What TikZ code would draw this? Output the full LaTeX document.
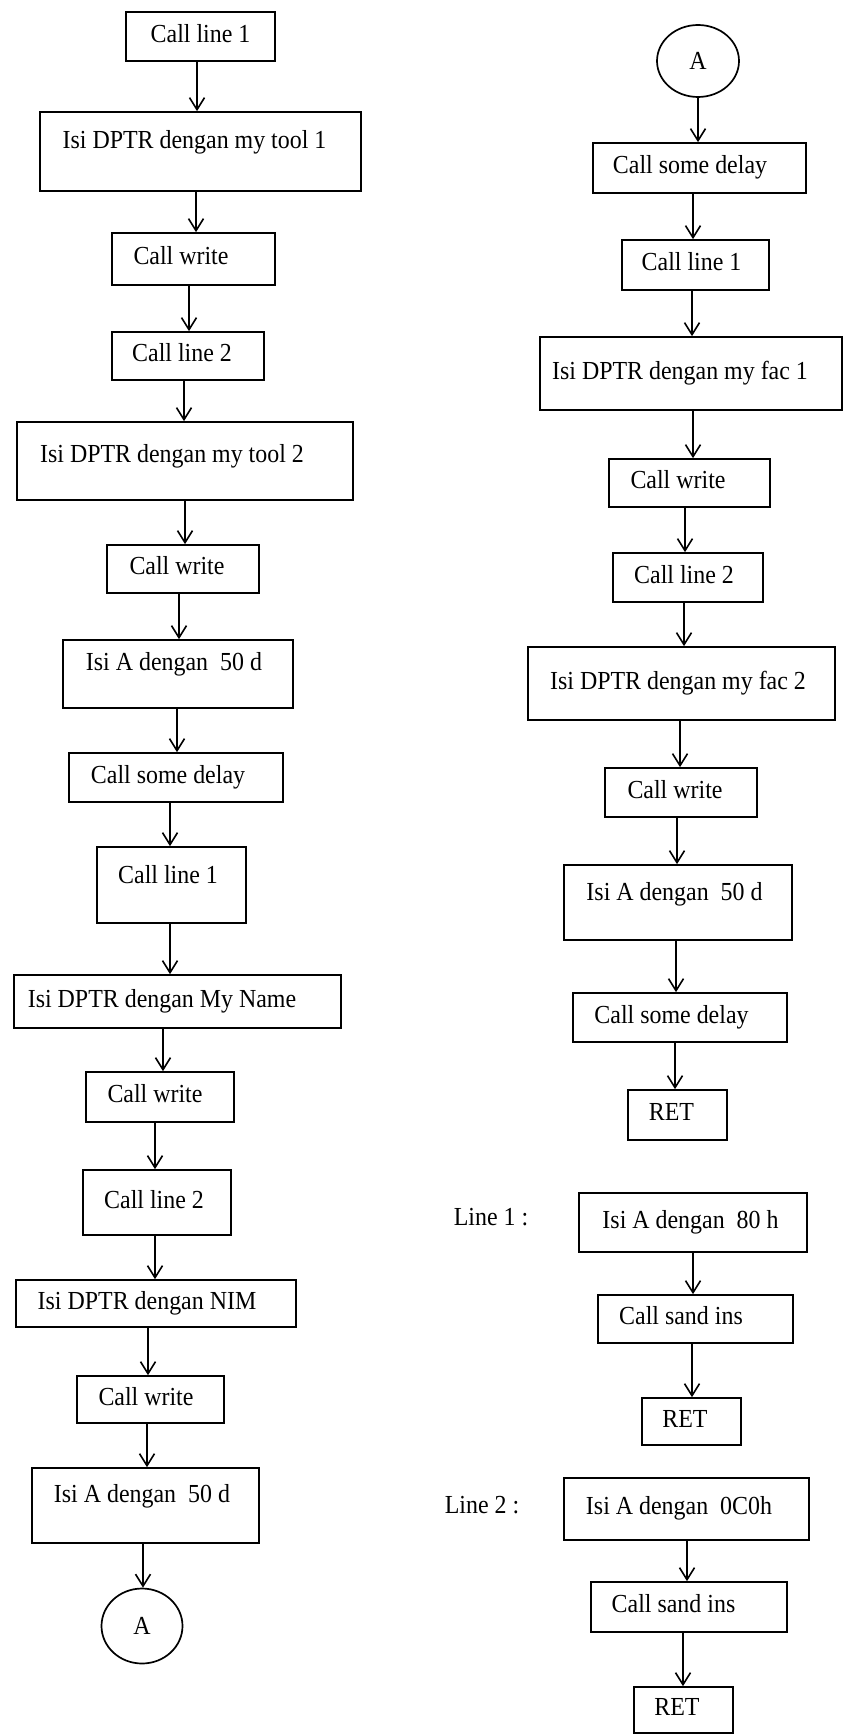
\documentclass[tikz,border=0pt]{standalone}
\usepackage{fontspec}
\setmainfont{Liberation Serif}[FakeStretch=0.92]
\usetikzlibrary{arrows.meta,shapes.geometric}
\begin{document}
\begin{tikzpicture}[x=1pt,y=-1pt,
  box/.style={draw, rectangle, line width=1.7pt, inner sep=0pt,
    text height=18pt, text depth=6.5pt, font=\fontsize{26}{30}\selectfont},
  conn/.style={draw, ellipse, line width=1.7pt, inner sep=0pt,
    font=\fontsize{26}{30}\selectfont},
  lbl/.style={inner sep=0pt, anchor=base, font=\fontsize{26}{30}\selectfont},
  sz/.style 2 args={minimum width=#1pt, minimum height=#2pt},
  tx/.style={execute at begin node={\hspace*{#1pt}\hspace*{#1pt}}},
  td/.style={text depth=#1pt},
  arr/.style={line width=1.6pt, -{Straight Barb[length=12pt,width=15pt]}}]
\useasboundingbox[fill=white] (0,0) rectangle (843,1736);

% ---------- main routine, left column ----------
\node[box, sz={149}{49}]               (L1)  at (200.5,36.5)  {Call line 1};
\node[box, sz={321}{79}, td=24, tx=-6] (L2)  at (200.5,151.5) {Isi DPTR dengan my tool 1};
\node[box, sz={163}{52}, tx=-12.5]     (L3)  at (193.5,259)   {Call write};
\node[box, sz={152}{48}, tx=-6]        (L4)  at (188,356)     {Call line 2};
\node[box, sz={336}{78}, td=15, tx=-13](L5)  at (185,461)     {Isi DPTR dengan my tool 2};
\node[box, sz={152}{48}, tx=-6]        (L6)  at (183,569)     {Call write};
\node[box, sz={230}{68}, td=25, tx=-4] (L7)  at (178,674)     {Isi A dengan\ \ 50 d};
\node[box, sz={214}{49}, tx=-8]        (L8)  at (176,777.5)   {Call some delay};
\node[box, sz={149}{76}, td=21, tx=-3.5](L9) at (171.5,885)   {Call line 1};
\node[box, sz={327}{53}, tx=-15.5]     (L10) at (177.5,1001.5){Isi DPTR dengan My Name};
\node[box, sz={148}{50}, tx=-5]        (L11) at (160,1097)    {Call write};
\node[box, sz={148}{65}, tx=-3]        (L12) at (157,1202.5)  {Call line 2};
\node[box, sz={280}{47}, tx=-9]        (L13) at (156,1303.5)  {Isi DPTR dengan NIM};
\node[box, sz={147}{47}, tx=-4.5]      (L14) at (150.5,1399.5){Call write};
\node[box, sz={227}{75}, td=24, tx=-3.5](L15) at (145.5,1505.5){Isi A dengan\ \ 50 d};
\node[conn, sz={81}{75}]               (LA)  at (142,1626)    {A};

\draw[arr] (L1.south -| 197,0)  -- (L2.north -| 197,0);
\draw[arr] (L2.south -| 196,0)  -- (L3.north -| 196,0);
\draw[arr] (L3.south -| 189,0)  -- (L4.north -| 189,0);
\draw[arr] (L4.south -| 184,0)  -- (L5.north -| 184,0);
\draw[arr] (L5.south -| 185,0)  -- (L6.north -| 185,0);
\draw[arr] (L6.south -| 179,0)  -- (L7.north -| 179,0);
\draw[arr] (L7.south -| 177,0)  -- (L8.north -| 177,0);
\draw[arr] (L8.south -| 170,0)  -- (L9.north -| 170,0);
\draw[arr] (L9.south -| 170,0)  -- (L10.north -| 170,0);
\draw[arr] (L10.south -| 163,0) -- (L11.north -| 163,0);
\draw[arr] (L11.south -| 155,0) -- (L12.north -| 155,0);
\draw[arr] (L12.south -| 155,0) -- (L13.north -| 155,0);
\draw[arr] (L13.south -| 148,0) -- (L14.north -| 148,0);
\draw[arr] (L14.south -| 147,0) -- (L15.north -| 147,0);
\draw[arr] (L15.south -| 143,0) -- (LA.north -| 143,0);

% ---------- continuation, right column ----------
\node[conn, sz={82}{72}]               (RA)  at (698,61)      {A};
\node[box, sz={213}{50}, tx=-9.5]      (R1)  at (699.5,168)   {Call some delay};
\node[box, sz={147}{50}, tx=-4]        (R2)  at (695.5,265)   {Call line 1};
\node[box, sz={302}{73}, tx=-11]       (R3)  at (691,373.5)   {Isi DPTR dengan my fac 1};
\node[box, sz={161}{48}, tx=-11.5]     (R4)  at (689.5,483)   {Call write};
\node[box, sz={150}{49}, tx=-4]        (R5)  at (688,577.5)   {Call line 2};
\node[box, sz={307}{73}, tx=-3.5]      (R6)  at (681.5,683.5) {Isi DPTR dengan my fac 2};
\node[box, sz={152}{49}, tx=-6]        (R7)  at (681,792.5)   {Call write};
\node[box, sz={228}{75}, td=22, tx=-3.5](R8) at (678,902.5)   {Isi A dengan\ \ 50 d};
\node[box, sz={214}{49}, tx=-8.5]      (R9)  at (680,1017.5)  {Call some delay};
\node[box, sz={99}{50}, tx=-6]         (R10) at (677.5,1115)  {RET};

\draw[arr] (RA.south -| 698,0)  -- (R1.north -| 698,0);
\draw[arr] (R1.south -| 693,0)  -- (R2.north -| 693,0);
\draw[arr] (R2.south -| 692,0)  -- (R3.north -| 692,0);
\draw[arr] (R3.south -| 693,0)  -- (R4.north -| 693,0);
\draw[arr] (R4.south -| 685,0)  -- (R5.north -| 685,0);
\draw[arr] (R5.south -| 684,0)  -- (R6.north -| 684,0);
\draw[arr] (R6.south -| 680,0)  -- (R7.north -| 680,0);
\draw[arr] (R7.south -| 677,0)  -- (R8.north -| 677,0);
\draw[arr] (R8.south -| 676,0)  -- (R9.north -| 676,0);
\draw[arr] (R9.south -| 675,0)  -- (R10.north -| 675,0);

% ---------- subroutine Line 1 ----------
\node[lbl]                             (N1)  at (491,1225)    {Line 1 :};
\node[box, sz={228}{59}, tx=-2.5]      (R11) at (693,1222.5)  {Isi A dengan\ \ 80 h};
\node[box, sz={195}{48}, tx=-14.5]     (R12) at (695.5,1319)  {Call sand ins};
\node[box, sz={99}{47}, tx=-6.5]       (R13) at (691.5,1421.5){RET};
\draw[arr] (R11.south -| 693,0) -- (R12.north -| 693,0);
\draw[arr] (R12.south -| 692,0) -- (R13.north -| 692,0);

% ---------- subroutine Line 2 ----------
\node[lbl]                             (N2)  at (482,1513)    {Line 2 :};
\node[box, sz={245}{62}, tx=-7.5]      (R14) at (686.5,1509)  {Isi A dengan\ \ 0C0h};
\node[box, sz={196}{50}, tx=-15.5]     (R15) at (689,1607)    {Call sand ins};
\node[box, sz={99}{46}, tx=-6.5]       (R16) at (683.5,1710)  {RET};
\draw[arr] (R14.south -| 687,0) -- (R15.north -| 687,0);
\draw[arr] (R15.south -| 683,0) -- (R16.north -| 683,0);
\end{tikzpicture}
\end{document}
